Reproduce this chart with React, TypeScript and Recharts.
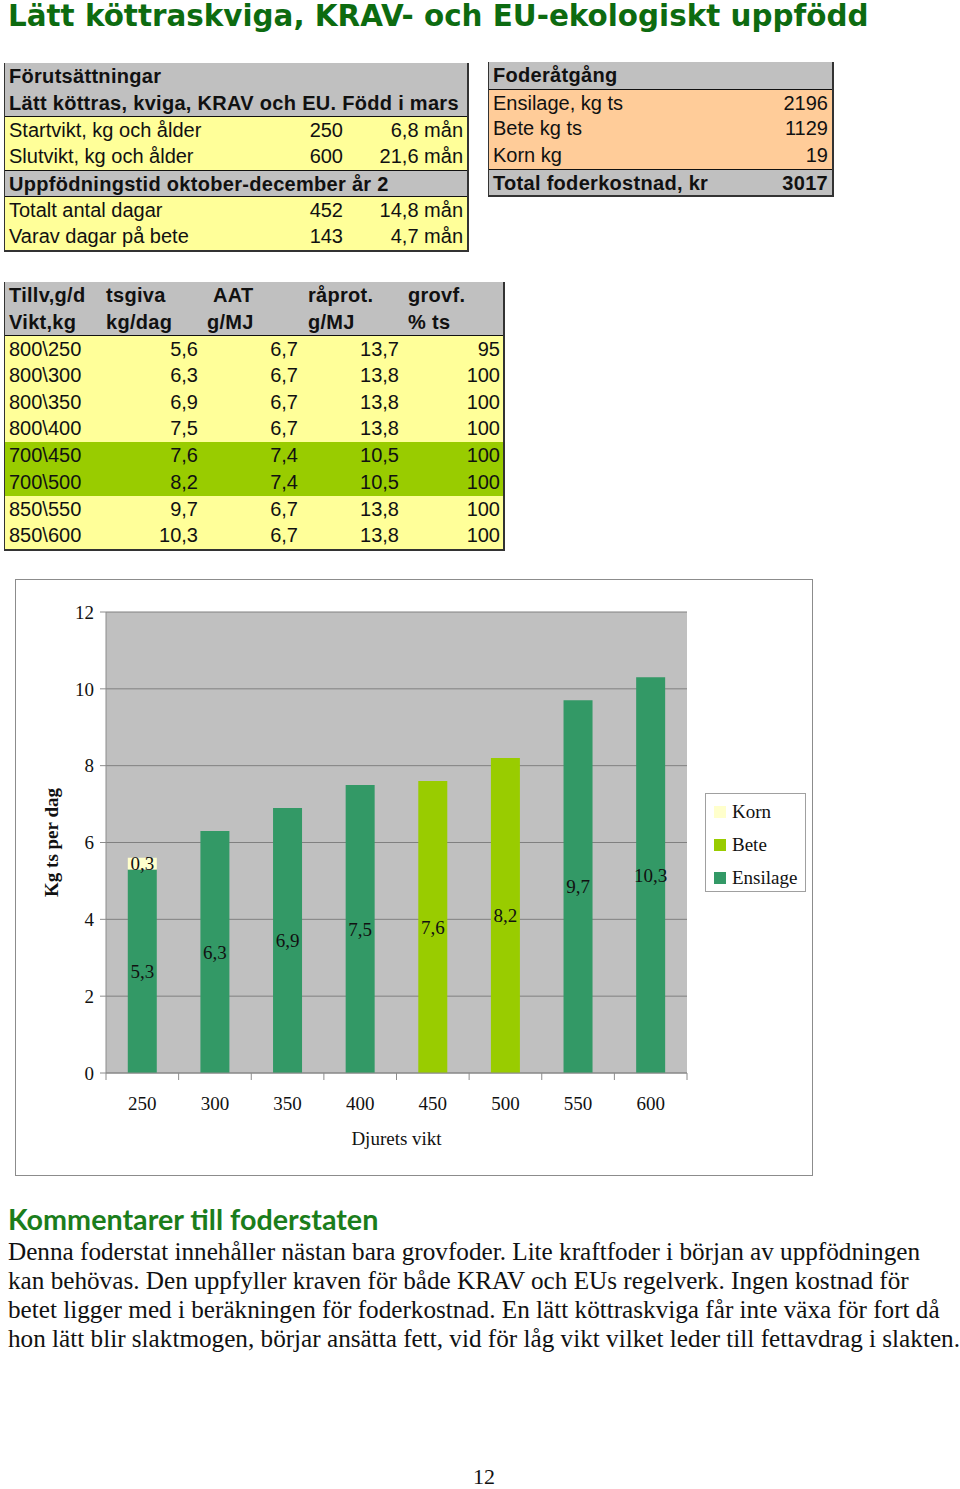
import React from 'react';
import { BarChart, Bar, XAxis, YAxis, CartesianGrid, Legend, LabelList } from 'recharts';

// Chart data
const vikter = ['250', '300', '350', '400', '450', '500', '550', '600'];
const ensilage = [5.3, 6.3, 6.9, 7.5, 0, 0, 9.7, 10.3];
const bete = [0, 0, 0, 0, 7.6, 8.2, 0, 0];
const korn = [0.3, 0, 0, 0, 0, 0, 0, 0];
const yTicks = [0, 2, 4, 6, 8, 10, 12];
const edgeTicks = [0, 1, 2, 3, 4, 5, 6, 7, 8];
const legendOrder = ['Korn', 'Bete', 'Ensilage'];

// Table contents
const forutsattningar = [
    ['Startvikt, kg och ålder', '250', '6,8 mån'],
    ['Slutvikt, kg och ålder', '600', '21,6 mån'],
];
const uppfodning = [
    ['Totalt antal dagar', '452', '14,8 mån'],
    ['Varav dagar på bete', '143', '4,7 mån'],
];
const foderatgang = [
    ['Ensilage, kg ts', '2196'],
    ['Bete kg ts', '1129'],
    ['Korn kg', '19'],
];
const naringHeader1 = ['Tillv,g/d', 'tsgiva', 'AAT', 'råprot.', 'grovf.'];
const naringHeader2 = ['Vikt,kg', 'kg/dag', 'g/MJ', 'g/MJ', '% ts'];
const naringRows = [
    ['800\\250', '5,6', '6,7', '13,7', '95'],
    ['800\\300', '6,3', '6,7', '13,8', '100'],
    ['800\\350', '6,9', '6,7', '13,8', '100'],
    ['800\\400', '7,5', '6,7', '13,8', '100'],
    ['700\\450', '7,6', '7,4', '10,5', '100'],
    ['700\\500', '8,2', '7,4', '10,5', '100'],
    ['850\\550', '9,7', '6,7', '13,8', '100'],
    ['850\\600', '10,3', '6,7', '13,8', '100'],
];
const betesRader = ['700\\450', '700\\500'];

const kommentar = [
    'Denna foderstat innehåller nästan bara grovfoder. Lite kraftfoder i början av uppfödningen',
    'kan behövas. Den uppfyller kraven för både KRAV och EUs regelverk. Ingen kostnad för',
    'betet ligger med i beräkningen för foderkostnad. En lätt köttraskviga får inte växa för fort då',
    'hon lätt blir slaktmogen, börjar ansätta fett, vid för låg vikt vilket leder till fettavdrag i slakten.',
];

const chartData = vikter.map((v, i) => ({
    vikt: v,
    pos: i + 0.5,
    Ensilage: ensilage[i],
    Bete: bete[i],
    Korn: korn[i],
}));

const GRAY = '#c0c0c0';
const YELLOW = '#ffff99';
const PEACH = '#ffcc99';
const GREEN_ROW = '#99cc00';
const ROW_H = 26.7;
const tableFont = '"Liberation Sans", Arial, sans-serif';
const serif = '"Liberation Serif", "Times New Roman", serif';

const fmt = (v: any) => (v ? String(v).replace('.', ',') : '');

const Cell = ({ text, left, right, bold }: { text: string; left?: number; right?: number; bold?: boolean }) => (
    <span
        style={{
            position: 'absolute',
            left,
            right,
            top: 0,
            whiteSpace: 'nowrap',
            fontWeight: bold ? 'bold' : 'normal',
            letterSpacing: bold ? 0.3 : 0,
        }}
    >
        {text}
    </span>
);

const Row = ({ bg, children, line }: { bg: string; children: React.ReactNode; line?: boolean }) => (
    <div
        style={{
            position: 'relative',
            height: ROW_H,
            lineHeight: `${ROW_H}px`,
            background: bg,
            borderTop: line ? '1px solid #111' : undefined,
            boxSizing: 'border-box',
        }}
    >
        {children}
    </div>
);

const tableBox = (left: number, top: number, width: number): React.CSSProperties => ({
    position: 'absolute',
    left,
    top,
    width,
    fontFamily: tableFont,
    fontSize: 20,
    color: '#111',
    borderLeft: '1px solid #333',
    borderRight: '2px solid #333',
    borderBottom: '2px solid #333',
    boxSizing: 'border-box',
});

const LegendBox = ({ payload }: any) => {
    const items = (payload || []).slice().sort(
        (a: any, b: any) => legendOrder.indexOf(a.value) - legendOrder.indexOf(b.value)
    );
    return (
        <div
            style={{
                width: 101,
                height: 99,
                border: '1px solid #a0a0a0',
                boxSizing: 'border-box',
                paddingTop: 1,
                fontFamily: serif,
                fontSize: 19,
                color: '#111',
            }}
        >
            {items.map((p: any) => (
                <div key={p.value} style={{ height: 33, display: 'flex', alignItems: 'center' }}>
                    <span style={{ width: 12, height: 12, marginLeft: 8, marginRight: 6, background: p.color }} />
                    <span>{p.value}</span>
                </div>
            ))}
        </div>
    );
};

const FoderChart = () => (
    <div
        style={{
            position: 'absolute',
            left: 15,
            top: 579,
            width: 798,
            height: 597,
            border: '1px solid #8c8c8c',
            boxSizing: 'border-box',
            background: '#fff',
        }}
    >
        <BarChart
            width={796}
            height={595}
            data={chartData}
            margin={{ top: 32, right: 125, bottom: 22, left: 0 }}
            barCategoryGap="30%"
        >
            <CartesianGrid xAxisId="b" vertical={false} stroke="#808080" fill={GRAY} />
            <XAxis
                xAxisId="b"
                dataKey="vikt"
                axisLine={false}
                tickLine={false}
                tickSize={6}
                tickMargin={17}
                height={79}
                tick={{ fill: '#111', fontSize: 19, fontFamily: serif }}
                label={{
                    value: 'Djurets vikt',
                    position: 'insideBottom',
                    offset: 8,
                    style: { fill: '#111', fontSize: 19, fontFamily: serif },
                }}
            />
            {/* tick marks between the categories, like Excel */}
            <XAxis
                xAxisId="a"
                type="number"
                dataKey="pos"
                domain={[0, 8]}
                ticks={edgeTicks}
                tick={() => <g />}
                tickSize={7}
                height={1}
                stroke="#8c8c8c"
            />
            <YAxis
                width={90}
                domain={[0, 12]}
                ticks={yTicks}
                tickSize={6}
                tickMargin={6}
                stroke="#8c8c8c"
                tick={{ fill: '#111', fontSize: 19, fontFamily: serif }}
                label={{
                    value: 'Kg ts per dag',
                    angle: -90,
                    position: 'insideLeft',
                    offset: 35,
                    style: { textAnchor: 'middle', fill: '#111', fontSize: 19, fontWeight: 'bold', fontFamily: serif },
                }}
            />
            <Legend
                layout="vertical"
                align="center"
                verticalAlign="middle"
                wrapperStyle={{ left: 689, top: 213, width: 101 }}
                content={LegendBox}
            />
            <Bar xAxisId="b" dataKey="Ensilage" stackId="a" fill="#339966" isAnimationActive={false}>
                <LabelList dataKey="Ensilage" position="center" formatter={fmt} fill="#111" fontSize={19} fontFamily={serif} />
            </Bar>
            <Bar xAxisId="b" dataKey="Bete" stackId="a" fill="#99cc00" isAnimationActive={false}>
                <LabelList dataKey="Bete" position="center" formatter={fmt} fill="#111" fontSize={19} fontFamily={serif} />
            </Bar>
            <Bar xAxisId="b" dataKey="Korn" stackId="a" fill="#ffffcc" isAnimationActive={false}>
                <LabelList dataKey="Korn" position="center" formatter={fmt} fill="#111" fontSize={19} fontFamily={serif} />
            </Bar>
        </BarChart>
    </div>
);

const App = () => (
    <div style={{ position: 'absolute', left: 0, top: 0, width: 960, height: 1489, background: '#fff' }}>
        <div
            style={{
                position: 'absolute',
                left: 8,
                top: -1,
                fontFamily: '"DejaVu Sans", Verdana, sans-serif',
                fontWeight: 'bold',
                fontSize: 29.4,
                color: '#0d6b10',
                whiteSpace: 'nowrap',
            }}
        >
            Lätt köttraskviga, KRAV- och EU-ekologiskt uppfödd
        </div>

        {/* Förutsättningar */}
        <div style={tableBox(4, 63, 465)}>
            <Row bg={GRAY}>
                <Cell text="Förutsättningar" left={4} bold />
            </Row>
            <Row bg={GRAY}>
                <Cell text="Lätt köttras, kviga, KRAV och EU. Född i mars" left={4} bold />
            </Row>
            {forutsattningar.map((r, i) => (
                <Row key={r[0]} bg={YELLOW} line={i === 0}>
                    <Cell text={r[0]} left={4} />
                    <Cell text={r[1]} right={124} />
                    <Cell text={r[2]} right={4} />
                </Row>
            ))}
            <Row bg={GRAY} line>
                <Cell text="Uppfödningstid oktober-december år 2" left={4} bold />
            </Row>
            {uppfodning.map((r, i) => (
                <Row key={r[0]} bg={YELLOW} line={i === 0}>
                    <Cell text={r[0]} left={4} />
                    <Cell text={r[1]} right={124} />
                    <Cell text={r[2]} right={4} />
                </Row>
            ))}
        </div>

        {/* Foderåtgång */}
        <div style={tableBox(488, 62, 346)}>
            <Row bg={GRAY}>
                <Cell text="Foderåtgång" left={4} bold />
            </Row>
            {foderatgang.map((r, i) => (
                <Row key={r[0]} bg={PEACH} line={i === 0}>
                    <Cell text={r[0]} left={4} />
                    <Cell text={r[1]} right={4} />
                </Row>
            ))}
            <Row bg={GRAY} line>
                <Cell text="Total foderkostnad, kr" left={4} bold />
                <Cell text="3017" right={4} bold />
            </Row>
        </div>

        {/* Näringsinnehåll */}
        <div style={tableBox(4, 282, 501)}>
            {[naringHeader1, naringHeader2].map((h, j) => (
                <Row key={j} bg={GRAY}>
                    <Cell text={h[0]} left={4} bold />
                    <Cell text={h[1]} left={101} bold />
                    <Cell text={h[2]} left={j === 0 ? 208 : 202} bold />
                    <Cell text={h[3]} left={303} bold />
                    <Cell text={h[4]} left={403} bold />
                </Row>
            ))}
            {naringRows.map((r, i) => (
                <Row key={r[0]} bg={betesRader.includes(r[0]) ? GREEN_ROW : YELLOW} line={i === 0}>
                    <Cell text={r[0]} left={4} />
                    <Cell text={r[1]} right={305} />
                    <Cell text={r[2]} right={205} />
                    <Cell text={r[3]} right={104} />
                    <Cell text={r[4]} right={3} />
                </Row>
            ))}
        </div>

        <FoderChart />

        <div
            style={{
                position: 'absolute',
                left: 8,
                top: 1202,
                fontFamily: 'Lato, "Open Sans", sans-serif',
                fontWeight: 'bold',
                fontSize: 28.7,
                color: '#1b7d1b',
                whiteSpace: 'nowrap',
            }}
        >
            Kommentarer till foderstaten
        </div>
        <div style={{ position: 'absolute', left: 8, top: 1237, fontFamily: serif, fontSize: 25.2, lineHeight: '29px', color: '#111' }}>
            {kommentar.map((l) => (
                <div key={l} style={{ whiteSpace: 'nowrap' }}>
                    {l}
                </div>
            ))}
        </div>
        <div style={{ position: 'absolute', left: 0, width: 968, top: 1464, textAlign: 'center', fontFamily: serif, fontSize: 22, color: '#111' }}>
            12
        </div>
    </div>
);

export default App;
